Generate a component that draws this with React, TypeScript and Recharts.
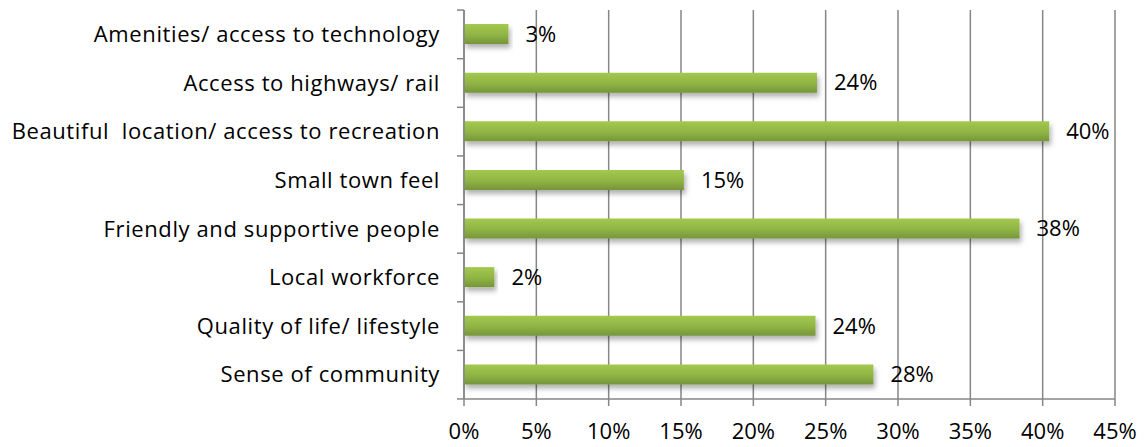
import React from 'react';
import { BarChart, Bar, XAxis, YAxis, CartesianGrid, LabelList } from 'recharts';

const categories = [
  'Amenities/ access to technology',
  'Access to highways/ rail',
  'Beautiful  location/ access to recreation',
  'Small town feel',
  'Friendly and supportive people',
  'Local workforce',
  'Quality of life/ lifestyle',
  'Sense of community',
];
const values = [3.07, 24.4, 40.45, 15.2, 38.4, 2.1, 24.3, 28.3];
const xTicks = [0, 5, 10, 15, 20, 25, 30, 35, 40, 45];

const data = categories.map((name, i) => ({ name, value: values[i] }));

const FONT = '"Open Sans", Lato, sans-serif';
const FS = 22;
const AXIS = '#868686';
const BAND = 388 / categories.length;

const YTick = (props: any) => {
  const { x, y, payload, index } = props;
  return (
    <g>
      <line x1={x - 7} x2={x} y1={y - BAND / 2} y2={y - BAND / 2} stroke={AXIS} strokeWidth={1.5} />
      {index === categories.length - 1 && (
        <line x1={x - 7} x2={x} y1={y + BAND / 2} y2={y + BAND / 2} stroke={AXIS} strokeWidth={1.5} />
      )}
      <text
        x={x - 24}
        y={y}
        dy="0.35em"
        textAnchor="end"
        fill="#000"
        fontSize={FS}
        fontFamily={FONT}
        letterSpacing={0.6}
        style={{ whiteSpace: 'pre' }}
        xmlSpace="preserve"
      >
        {payload.value}
      </text>
    </g>
  );
};

export default function App() {
  return (
    <div style={{ position: 'absolute', left: 0, top: 0, background: '#fff' }}>
      <BarChart
        width={1146}
        height={447}
        data={data}
        layout="vertical"
        margin={{ top: 10, right: 31, bottom: 0, left: 0 }}
        barCategoryGap={0}
      >
        <defs>
          <linearGradient id="barGrad" x1="0" y1="0" x2="0" y2="1">
            <stop offset="0%" stopColor="#a3c94f" />
            <stop offset="55%" stopColor="#8fb444" />
            <stop offset="100%" stopColor="#76953a" />
          </linearGradient>
          <filter id="shadow" x="-5%" y="-30%" width="115%" height="190%">
            <feDropShadow dx="2" dy="4" stdDeviation="2.5" floodColor="#000" floodOpacity="0.3" />
          </filter>
        </defs>
        <CartesianGrid horizontal={false} vertical stroke={AXIS} strokeWidth={1.5} />
        <XAxis
          type="number"
          domain={[0, 45]}
          ticks={xTicks}
          tickFormatter={(v: number) => `${v}%`}
          height={48}
          tickSize={7}
          tickMargin={17}
          axisLine={{ stroke: AXIS, strokeWidth: 1.5 }}
          tickLine={{ stroke: AXIS, strokeWidth: 1.5 }}
          tick={{ fill: '#000', fontSize: FS, fontFamily: FONT }}
          interval={0}
        />
        <YAxis
          type="category"
          dataKey="name"
          width={464}
          tickSize={0}
          tickMargin={0}
          axisLine={{ stroke: AXIS, strokeWidth: 1.5 }}
          tickLine={false}
          tick={<YTick />}
          interval={0}
        />
        <Bar dataKey="value" barSize={20} fill="url(#barGrad)" filter="url(#shadow)" isAnimationActive={false}>
          <LabelList
            dataKey="value"
            position="right"
            offset={17}
            formatter={(v: number) => `${Math.round(v)}%`}
            style={{ fill: '#000', fontSize: FS, fontFamily: FONT }}
          />
        </Bar>
      </BarChart>
    </div>
  );
}
